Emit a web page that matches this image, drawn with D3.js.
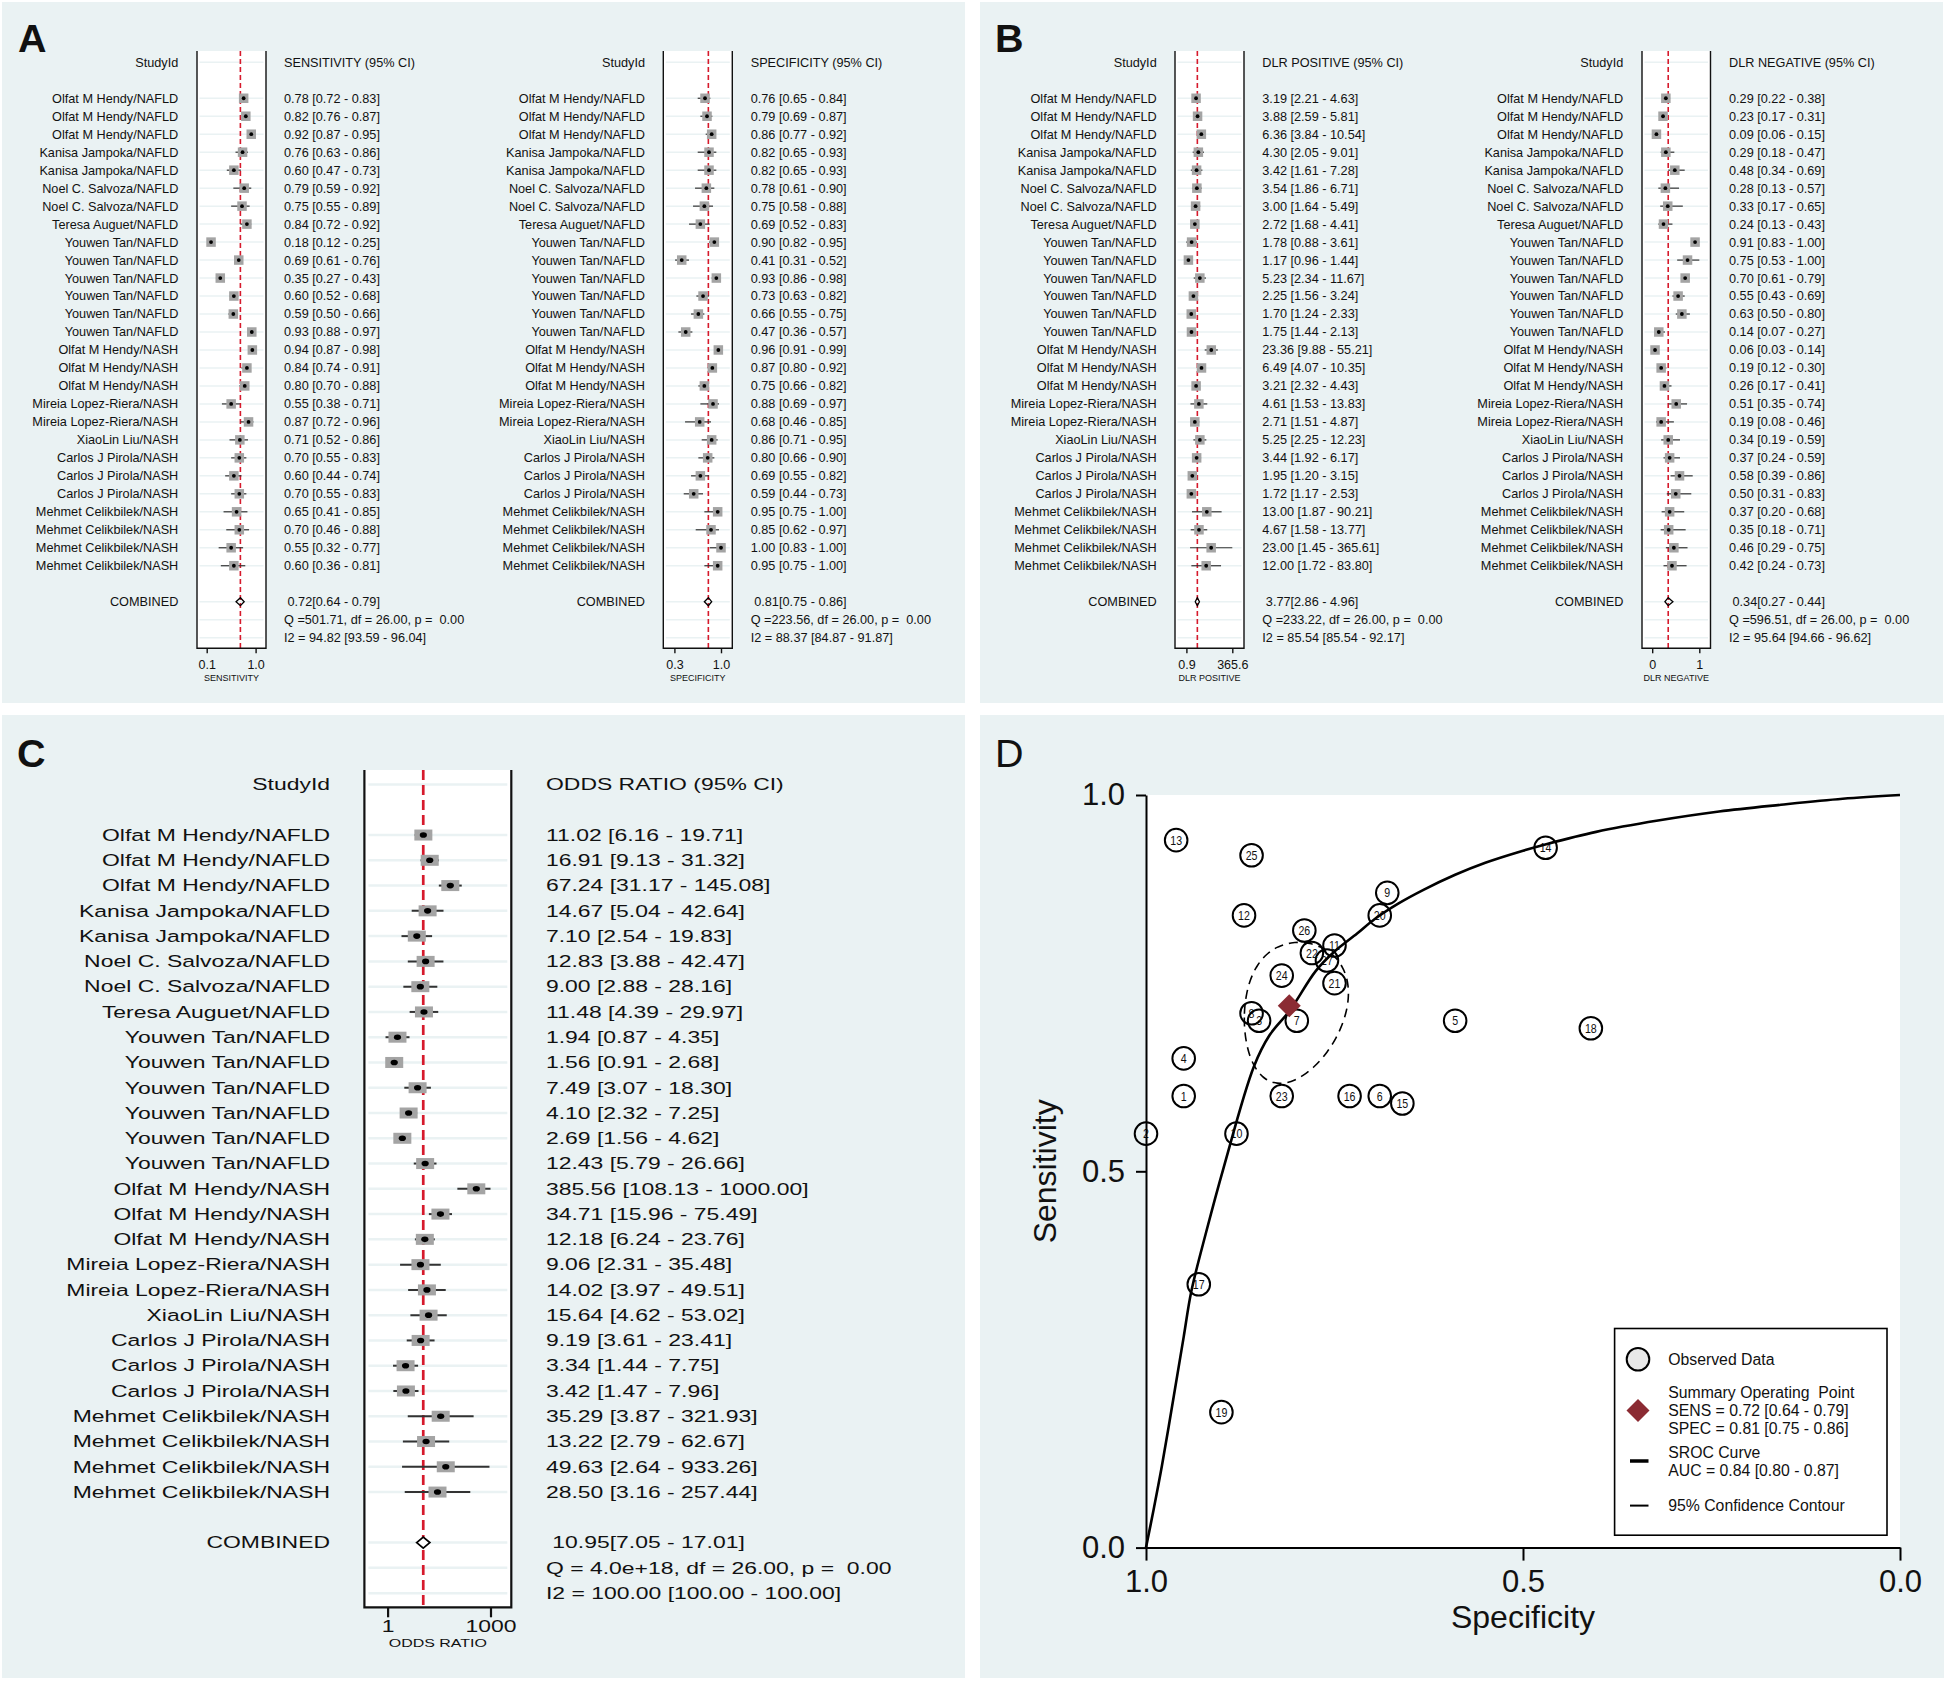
<!DOCTYPE html>
<html><head><meta charset="utf-8">
<script src="https://d3js.org/d3.v7.min.js"></script>
<style>
html,body{margin:0;padding:0;background:#fff;}
svg{display:block;}
text{font-family:"Liberation Sans",Arial,Helvetica,sans-serif;white-space:pre;fill:#111;}
</style></head><body>
<svg id="chart" width="1946" height="1681" xmlns="http://www.w3.org/2000/svg"></svg>
<script>
// ---------------- DATA ----------------
const studies = [
 "Olfat M Hendy/NAFLD","Olfat M Hendy/NAFLD","Olfat M Hendy/NAFLD",
 "Kanisa Jampoka/NAFLD","Kanisa Jampoka/NAFLD",
 "Noel C. Salvoza/NAFLD","Noel C. Salvoza/NAFLD",
 "Teresa Auguet/NAFLD",
 "Youwen Tan/NAFLD","Youwen Tan/NAFLD","Youwen Tan/NAFLD","Youwen Tan/NAFLD","Youwen Tan/NAFLD","Youwen Tan/NAFLD",
 "Olfat M Hendy/NASH","Olfat M Hendy/NASH","Olfat M Hendy/NASH",
 "Mireia Lopez-Riera/NASH","Mireia Lopez-Riera/NASH",
 "XiaoLin Liu/NASH",
 "Carlos J Pirola/NASH","Carlos J Pirola/NASH","Carlos J Pirola/NASH",
 "Mehmet Celikbilek/NASH","Mehmet Celikbilek/NASH","Mehmet Celikbilek/NASH","Mehmet Celikbilek/NASH"
];
// [estimate, lower, upper]
const sensitivity = [[0.78,0.72,0.83],[0.82,0.76,0.87],[0.92,0.87,0.95],[0.76,0.63,0.86],[0.60,0.47,0.73],[0.79,0.59,0.92],[0.75,0.55,0.89],[0.84,0.72,0.92],[0.18,0.12,0.25],[0.69,0.61,0.76],[0.35,0.27,0.43],[0.60,0.52,0.68],[0.59,0.50,0.66],[0.93,0.88,0.97],[0.94,0.87,0.98],[0.84,0.74,0.91],[0.80,0.70,0.88],[0.55,0.38,0.71],[0.87,0.72,0.96],[0.71,0.52,0.86],[0.70,0.55,0.83],[0.60,0.44,0.74],[0.70,0.55,0.83],[0.65,0.41,0.85],[0.70,0.46,0.88],[0.55,0.32,0.77],[0.60,0.36,0.81]];
const specificity = [[0.76,0.65,0.84],[0.79,0.69,0.87],[0.86,0.77,0.92],[0.82,0.65,0.93],[0.82,0.65,0.93],[0.78,0.61,0.90],[0.75,0.58,0.88],[0.69,0.52,0.83],[0.90,0.82,0.95],[0.41,0.31,0.52],[0.93,0.86,0.98],[0.73,0.63,0.82],[0.66,0.55,0.75],[0.47,0.36,0.57],[0.96,0.91,0.99],[0.87,0.80,0.92],[0.75,0.66,0.82],[0.88,0.69,0.97],[0.68,0.46,0.85],[0.86,0.71,0.95],[0.80,0.66,0.90],[0.69,0.55,0.82],[0.59,0.44,0.73],[0.95,0.75,1.00],[0.85,0.62,0.97],[1.00,0.83,1.00],[0.95,0.75,1.00]];
const dlrPositive = [[3.19,2.21,4.63],[3.88,2.59,5.81],[6.36,3.84,10.54],[4.30,2.05,9.01],[3.42,1.61,7.28],[3.54,1.86,6.71],[3.00,1.64,5.49],[2.72,1.68,4.41],[1.78,0.88,3.61],[1.17,0.96,1.44],[5.23,2.34,11.67],[2.25,1.56,3.24],[1.70,1.24,2.33],[1.75,1.44,2.13],[23.36,9.88,55.21],[6.49,4.07,10.35],[3.21,2.32,4.43],[4.61,1.53,13.83],[2.71,1.51,4.87],[5.25,2.25,12.23],[3.44,1.92,6.17],[1.95,1.20,3.15],[1.72,1.17,2.53],[13.00,1.87,90.21],[4.67,1.58,13.77],[23.00,1.45,365.61],[12.00,1.72,83.80]];
const dlrNegative = [[0.29,0.22,0.38],[0.23,0.17,0.31],[0.09,0.06,0.15],[0.29,0.18,0.47],[0.48,0.34,0.69],[0.28,0.13,0.57],[0.33,0.17,0.65],[0.24,0.13,0.43],[0.91,0.83,1.00],[0.75,0.53,1.00],[0.70,0.61,0.79],[0.55,0.43,0.69],[0.63,0.50,0.80],[0.14,0.07,0.27],[0.06,0.03,0.14],[0.19,0.12,0.30],[0.26,0.17,0.41],[0.51,0.35,0.74],[0.19,0.08,0.46],[0.34,0.19,0.59],[0.37,0.24,0.59],[0.58,0.39,0.86],[0.50,0.31,0.83],[0.37,0.20,0.68],[0.35,0.18,0.71],[0.46,0.29,0.75],[0.42,0.24,0.73]];
const oddsRatio = [[11.02,6.16,19.71],[16.91,9.13,31.32],[67.24,31.17,145.08],[14.67,5.04,42.64],[7.10,2.54,19.83],[12.83,3.88,42.47],[9.00,2.88,28.16],[11.48,4.39,29.97],[1.94,0.87,4.35],[1.56,0.91,2.68],[7.49,3.07,18.30],[4.10,2.32,7.25],[2.69,1.56,4.62],[12.43,5.79,26.66],[385.56,108.13,1000.00],[34.71,15.96,75.49],[12.18,6.24,23.76],[9.06,2.31,35.48],[14.02,3.97,49.51],[15.64,4.62,53.02],[9.19,3.61,23.41],[3.34,1.44,7.75],[3.42,1.47,7.96],[35.29,3.87,321.93],[13.22,2.79,62.67],[49.63,2.64,933.26],[28.50,3.16,257.44]];

const pooledSens = [0.72,0.64,0.79];
const pooledSpec = [0.81,0.75,0.86];
const pooledDlrPos = [3.77,2.86,4.96];
const pooledDlrNeg = [0.34,0.27,0.44];
const pooledOR = [10.95,7.05,17.01];
const pooledAUC = [0.84,0.80,0.87];
const heterogeneityQ = ["Q =501.71, df = 26.00, p =  0.00","Q =223.56, df = 26.00, p =  0.00","Q =233.22, df = 26.00, p =  0.00","Q =596.51, df = 26.00, p =  0.00","Q = 4.0e+18, df = 26.00, p =  0.00"];
const heterogeneityI2 = ["I2 = 94.82 [93.59 - 96.04]","I2 = 88.37 [84.87 - 91.87]","I2 = 85.54 [85.54 - 92.17]","I2 = 95.64 [94.66 - 96.62]","I2 = 100.00 [100.00 - 100.00]"];
const forestHeaders = ["SENSITIVITY (95% CI)","SPECIFICITY (95% CI)","DLR POSITIVE (95% CI)","DLR NEGATIVE (95% CI)","ODDS RATIO (95% CI)"];
const axisTitles = ["SENSITIVITY","SPECIFICITY","DLR POSITIVE","DLR NEGATIVE","ODDS RATIO"];
const tickValues = [[0.1,1.0],[0.3,1.0],[0.9,365.6],[0,1],[1,1000]];
const tickLabels = [["0.1","1.0"],["0.3","1.0"],["0.9","365.6"],["0","1"],["1","1000"]];
const panelLetters = ["A","B","C","D"];
// SROC curve: [specificity, sensitivity]
const srocSpec = [1.000,0.990,0.979,0.963,0.950,0.940,0.920,0.897,0.857,0.836,0.809,0.775,0.750,0.720,0.697,0.665,0.632,0.590,0.550,0.500,0.468,0.403,0.321,0.240,0.158,0.076,0.000];
const srocSens = [0.000,0.050,0.108,0.202,0.280,0.340,0.420,0.505,0.639,0.681,0.714,0.766,0.792,0.816,0.835,0.856,0.874,0.894,0.910,0.926,0.935,0.951,0.966,0.978,0.987,0.995,1.000];
const sRocTicks = [0, 0.5, 1];
const legendLabels = ["Observed Data","Summary Operating  Point","SROC Curve","95% Confidence Contour"];

// ---------------- DRAW ----------------
const svg = d3.select("#chart");
const BG = "#eaf2f3", RED = "#d61a2c", INK = "#111", MAROON = "#8b2b33";

[[2,2,963,701],[980,2,963,701],[2,715,963,963],[980,715,964,963]].forEach(([x,y,w,h]) =>
  svg.append("rect").attr("x",x).attr("y",y).attr("width",w).attr("height",h).attr("fill",BG));

const fmtCI = (d, sep=" ") => `${d[0].toFixed(2)}${sep}[${d[1].toFixed(2)} - ${d[2].toFixed(2)}]`;

function forest(c){
  const g = svg.append("g");
  const Y = i => c.y0 + i*c.dy;
  const s = c.scale;
  const T = (x,y,str,anchor="start",fs=c.fs) => g.append("text")
     .attr("transform",`translate(${x},${y}) scale(${c.sx},1)`)
     .attr("dy","0.35em").attr("font-size",fs).attr("text-anchor",anchor).text(str);
  g.append("rect").attr("x",c.boxL).attr("y",c.boxT).attr("width",c.boxR-c.boxL)
    .attr("height",c.boxB-c.boxT).attr("fill","#fff");
  const gridRows = [0, ...d3.range(2, 2 + c.data.length), 30, 31, 32];
  g.selectAll(null).data(gridRows).join("line")
    .attr("x1",c.boxL+c.gridInset).attr("x2",c.boxR-c.gridInset)
    .attr("y1",d=>Y(d)).attr("y2",d=>Y(d)).attr("stroke",BG).attr("stroke-width",c.gridW);
  const p = c.pooled;
  g.append("line").attr("x1",s(p[0])).attr("x2",s(p[0])).attr("y1",c.boxT).attr("y2",c.boxB)
    .attr("stroke",RED).attr("stroke-width",c.refW).attr("stroke-dasharray",c.dash);
  const rows = g.selectAll(null).data(c.data).join("g").attr("transform",(d,i)=>`translate(0,${Y(i+2)})`);
  rows.append("line").attr("x1",d=>s(d[1])).attr("x2",d=>s(d[2])).attr("stroke","#333").attr("stroke-width",c.ciW);
  rows.append("rect").attr("x",d=>s(d[0])-c.sqW/2).attr("y",-c.sqH/2).attr("width",c.sqW).attr("height",c.sqH).attr("fill","#a4a4a4");
  rows.append("ellipse").attr("cx",d=>s(d[0])).attr("cy",0).attr("rx",c.dotRx).attr("ry",c.dotRy).attr("fill","#000");
  const yc = Y(30);
  g.append("path").attr("d",`M${s(p[1])},${yc}L${s(p[0])},${yc-c.diaH/2}L${s(p[2])},${yc}L${s(p[0])},${yc+c.diaH/2}Z`)
    .attr("fill",c.diaFill).attr("stroke","#000").attr("stroke-width",c.diaW);
  g.append("path").attr("d",`M${c.boxL},${c.boxT}V${c.boxB}H${c.boxR}V${c.boxT}`)
    .attr("fill","none").attr("stroke",INK).attr("stroke-width",c.boxW);
  const ax = d3.axisBottom(s).tickValues(c.ticks).tickSize(c.tickLen).tickSizeOuter(0)
    .tickFormat((d,i)=>c.tickLabels[i]);
  const ag = g.append("g").attr("transform",`translate(0,${c.boxB})`).call(ax)
    .attr("font-family",null).attr("font-size",null);
  ag.select(".domain").remove();
  ag.selectAll(".tick line").attr("stroke",INK).attr("stroke-width",c.boxW);
  ag.selectAll(".tick text").attr("y",c.tickLabelY-c.boxB).attr("dy","0.35em")
    .attr("font-size",c.tickFs).attr("transform",`scale(${c.sx},1)`).attr("fill",INK);
  T(c.labelX, Y(0), "StudyId", "end");
  T(c.valX, Y(0), c.header);
  c.data.forEach((d,i)=>{ T(c.labelX, Y(i+2), studies[i], "end"); T(c.valX, Y(i+2), fmtCI(d)); });
  T(c.labelX, Y(30), "COMBINED", "end");
  T(c.valX, Y(30), " " + fmtCI(p, ""));
  T(c.valX, Y(31), c.q);
  T(c.valX, Y(32), c.i2);
  T((c.boxL+c.boxR)/2, c.titleY, c.title, "middle", c.titleFs);
}

const small = {y0:62.3, dy:17.98, fs:12.7, sx:1, boxT:51, boxB:648.3, tickLen:5, tickLabelY:664.3,
  tickFs:12.5, titleY:677.7, titleFs:9, gridInset:2.5, gridW:1.5, refW:1.6, dash:"5,3", boxW:1.4,
  sqW:9.5, sqH:9.5, dotRx:1.9, dotRy:1.9, ciW:1.2, diaH:8, diaW:1.3, diaFill:"none"};
const smallPanels = [
  {data:sensitivity, pooled:pooledSens, boxL:197, boxR:266, labelX:178.3, valX:284,
   scale:d3.scaleLinear().domain([0.1,1]).range([206.7,255.6])},
  {data:specificity, pooled:pooledSpec, boxL:663.3, boxR:732.3, labelX:645, valX:750.7,
   scale:d3.scaleLinear().domain([0.3,1]).range([674.4,721])},
  {data:dlrPositive, pooled:pooledDlrPos, boxL:1175, boxR:1244, labelX:1156.7, valX:1262.3,
   scale:d3.scaleLog().domain([0.9,365.6]).range([1186.4,1232.3])},
  {data:dlrNegative, pooled:pooledDlrNeg, boxL:1642, boxR:1710.5, labelX:1623.3, valX:1729,
   scale:d3.scaleLinear().domain([0,1]).range([1652.2,1699.3])}
];
smallPanels.forEach((sp,k)=>forest(Object.assign({}, small, sp, {
  header:forestHeaders[k], title:axisTitles[k], ticks:tickValues[k], tickLabels:tickLabels[k],
  q:heterogeneityQ[k], i2:heterogeneityI2[k]})));

forest({y0:784.5, dy:25.27, fs:16.5, sx:1.39, boxT:770, boxB:1607.3, tickLen:10, tickLabelY:1626.7,
  tickFs:16.5, titleY:1643, titleFs:11.5, gridInset:4, gridW:2.5, refW:2.7, dash:"10,5", boxW:2.2,
  sqW:18, sqH:11, dotRx:3.6, dotRy:2.8, ciW:2, diaH:11, diaW:1.8, diaFill:"#fff",
  data:oddsRatio, pooled:pooledOR, boxL:364.4, boxR:511.3, labelX:330, valX:546,
  scale:d3.scaleLog().domain([1,1000]).range([387.6,490.5]),
  header:forestHeaders[4], title:axisTitles[4], ticks:tickValues[4], tickLabels:tickLabels[4],
  q:heterogeneityQ[4], i2:heterogeneityI2[4]});

// panel letters
[[18,51.7,"bold"],[995,51.7,"bold"],[17,767,"bold"],[995,767,"normal"]].forEach(([x,y,w],i)=>
  svg.append("text").attr("x",x).attr("y",y).attr("font-size",39.5).attr("font-weight",w)
    .attr("fill","#000").text(panelLetters[i]));

// ---------------- PANEL D: SROC ----------------
const xD = d3.scaleLinear().domain([1,0]).range([1146,1900]);
const yD = d3.scaleLinear().domain([0,1]).range([1547.6,795]);
const gD = svg.append("g");
gD.append("rect").attr("x",xD(1)).attr("y",yD(1)).attr("width",xD(0)-xD(1)).attr("height",yD(0)-yD(1)).attr("fill","#fff");

// 95% confidence contour (ellipse in logit space around the summary point)
const logit = v => Math.log(v/(1-v)), expit = v => 1/(1+Math.exp(-v));
const seSpec = (logit(pooledSpec[2])-logit(pooledSpec[1]))/3.92;
const seSens = (logit(pooledSens[2])-logit(pooledSens[1]))/3.92;
const rho = -0.18, rad = Math.sqrt(5.991);
const contour = d3.range(0, 360, 4).map(a=>{
  const t = a*Math.PI/180, u = Math.cos(t), v = Math.sin(t);
  const sp = expit(logit(pooledSpec[0]) + rad*seSpec*u);
  const se = expit(logit(pooledSens[0]) + rad*seSens*(rho*u + Math.sqrt(1-rho*rho)*v));
  return [xD(sp), yD(se)];
});
gD.append("path").attr("d", d3.line().curve(d3.curveCardinalClosed)(contour))
  .attr("fill","none").attr("stroke","#000").attr("stroke-width",1.6).attr("stroke-dasharray","9,6");

// observed data
const pts = gD.selectAll(null).data(sensitivity).join("g")
  .attr("transform",(d,i)=>`translate(${xD(specificity[i][0])},${yD(d[0])})`);
pts.append("circle").attr("r",11.3).attr("fill","none").attr("stroke","#000").attr("stroke-width",2);
pts.append("text").attr("text-anchor","middle").attr("dy","0.36em").attr("font-size",12.5)
  .attr("transform","scale(0.85,1)").text((d,i)=>studies.length - i);

// SROC curve
gD.append("path").attr("d", d3.line().curve(d3.curveCatmullRom)(srocSpec.map((s,i)=>[xD(s), yD(srocSens[i])])))
  .attr("fill","none").attr("stroke","#000").attr("stroke-width",2.6);

// summary point
const diamond = (cx,cy,r) => `M${cx},${cy-r}L${cx+r},${cy}L${cx},${cy+r}L${cx-r},${cy}Z`;
gD.append("path").attr("d",diamond(xD(pooledSpec[0]), yD(pooledSens[0]), 11.5)).attr("fill",MAROON);

// axes
const axL = gD.append("g").attr("transform",`translate(${xD(1)},0)`)
  .call(d3.axisLeft(yD).tickValues(sRocTicks).tickFormat(d3.format(".1f")).tickSize(10).tickPadding(11).tickSizeOuter(0));
const axB = gD.append("g").attr("transform",`translate(0,${yD(0)})`)
  .call(d3.axisBottom(xD).tickValues(sRocTicks).tickFormat(d3.format(".1f")).tickSize(13).tickPadding(9).tickSizeOuter(0));
[axL, axB].forEach(a=>{
  a.attr("font-family",null).attr("font-size",null);
  a.selectAll("path,line").attr("stroke","#000").attr("stroke-width",2);
  a.selectAll("text").attr("font-size",31).attr("fill","#111");
});
gD.append("text").attr("x",xD(0.5)).attr("y",1617).attr("dy","0.35em").attr("text-anchor","middle")
  .attr("font-size",32).text("Specificity");
gD.append("text").attr("transform",`translate(1045,${yD(0.5)}) rotate(-90)`).attr("dy","0.35em")
  .attr("text-anchor","middle").attr("font-size",32).text("Sensitivity");

// legend
const lg = gD.append("g");
lg.append("rect").attr("x",1614.6).attr("y",1328.5).attr("width",272.4).attr("height",206.7)
  .attr("fill","#fff").attr("stroke","#000").attr("stroke-width",1.6);
const LT = (y,s)=>lg.append("text").attr("x",1668.2).attr("y",y).attr("dy","0.35em")
  .attr("font-size",15.8).text(s);
lg.append("circle").attr("cx",1638).attr("cy",1359.3).attr("r",11.3).attr("fill","#e8e8e8").attr("stroke","#000").attr("stroke-width",2);
LT(1359.3, legendLabels[0]);
lg.append("path").attr("d",diamond(1638,1410.4,11.5)).attr("fill",MAROON);
LT(1392, legendLabels[1]);
LT(1410.4, `SENS = ${fmtCI(pooledSens)}`);
LT(1428.8, `SPEC = ${fmtCI(pooledSpec)}`);
lg.append("line").attr("x1",1630).attr("x2",1648.5).attr("y1",1461).attr("y2",1461).attr("stroke","#000").attr("stroke-width",3.5);
LT(1452.3, legendLabels[2]);
LT(1470.7, `AUC = ${fmtCI(pooledAUC)}`);
lg.append("line").attr("x1",1630).attr("x2",1648.5).attr("y1",1505.6).attr("y2",1505.6).attr("stroke","#000").attr("stroke-width",2);
LT(1505.6, legendLabels[3]);
</script>
</body></html>
